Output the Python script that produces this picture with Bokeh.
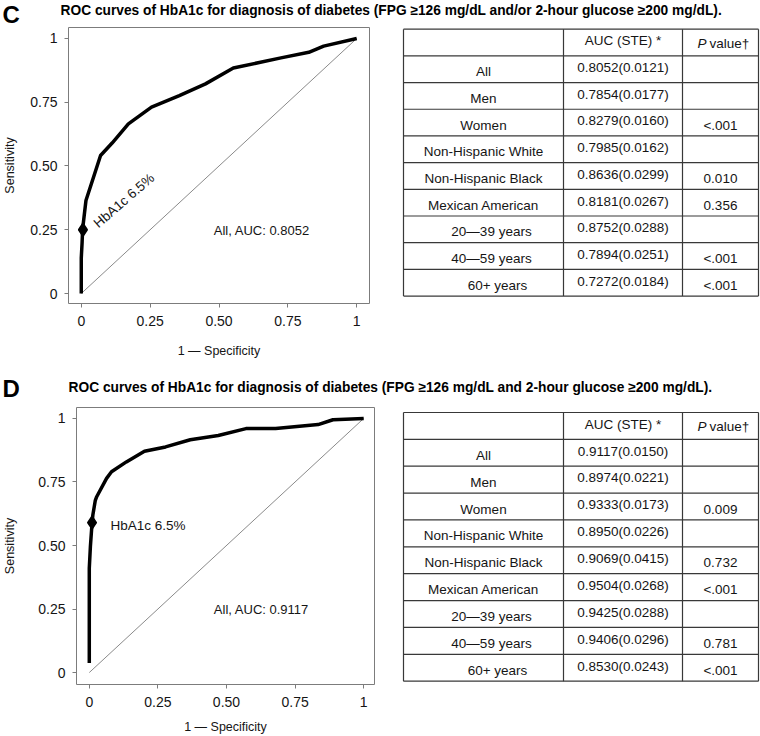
from bokeh.plotting import figure
from bokeh.layouts import column, row
from bokeh.models import Range1d, FixedTicker, Label
from bokeh.core.properties import value
from bokeh.embed import file_html
from bokeh.resources import INLINE

FONT = "Liberation Sans"
TXT = "#151515"

# ---------------- data ----------------
title_c = "ROC curves of HbA1c for diagnosis of diabetes (FPG \u2265126 mg/dL and/or 2-hour glucose \u2265200 mg/dL)."
title_d = "ROC curves of HbA1c for diagnosis of diabetes (FPG \u2265126 mg/dL and 2-hour glucose \u2265200 mg/dL)."

fpr_c = [0, 0, 0.003, 0.005, 0.010, 0.017, 0.070, 0.112, 0.171, 0.255, 0.356,
         0.451, 0.552, 0.642, 0.725, 0.826, 0.880, 1.0]
tpr_c = [0, 0.14, 0.20, 0.254, 0.30, 0.365, 0.541, 0.590, 0.665, 0.731, 0.776,
         0.822, 0.884, 0.905, 0.924, 0.946, 0.970, 1.0]
cut_c = [0.006, 0.25]
auc_all_c = "All, AUC: 0.8052"

fpr_d = [0, 0, 0, 0.004, 0.010, 0.013, 0.022, 0.027, 0.063, 0.081, 0.135, 0.201, 0.278,
         0.368, 0.470, 0.571, 0.679, 0.834, 0.888, 1.0]
tpr_d = [0.038, 0.247, 0.41, 0.495, 0.587, 0.620, 0.678, 0.692, 0.764, 0.790, 0.829, 0.871,
         0.888, 0.916, 0.933, 0.960, 0.960, 0.976, 0.995, 1.0]
cut_d = [0.010, 0.59]
auc_all_d = "All, AUC: 0.9117"

cut_label = "HbA1c 6.5%"
chance = [0, 1]
ticks = [0, 0.25, 0.5, 0.75, 1]
tick_labels = ["0", "0.25", "0.50", "0.75", "1"]

groups = ["All", "Men", "Women", "Non-Hispanic White", "Non-Hispanic Black",
          "Mexican American", "20\u201439 years", "40\u201459 years", "60+ years"]
auc_c = ["0.8052(0.0121)", "0.7854(0.0177)", "0.8279(0.0160)", "0.7985(0.0162)",
         "0.8636(0.0299)", "0.8181(0.0267)", "0.8752(0.0288)", "0.7894(0.0251)",
         "0.7272(0.0184)"]
p_c = ["", "", "<.001", "", "0.010", "0.356", "", "<.001", "<.001"]
auc_d = ["0.9117(0.0150)", "0.8974(0.0221)", "0.9333(0.0173)", "0.8950(0.0226)",
         "0.9069(0.0415)", "0.9504(0.0268)", "0.9425(0.0288)", "0.9406(0.0296)",
         "0.8530(0.0243)"]
p_d = ["", "", "0.009", "", "0.732", "<.001", "", "0.781", "<.001"]
hdr_auc = "AUC (STE) *"
hdr_p = "value\u2020"

# small horizontal nudges of some row labels (layout only)
label_dx = [0, 0, 0, 0, 0, 0, 8, 8, 14]


def base_fig(w, h, xr, yr, **kw):
    p = figure(width=w, height=h, x_range=Range1d(*xr), y_range=Range1d(*yr),
               output_backend="svg", toolbar_location=None, title=None, **kw)
    p.background_fill_color = "white"
    p.border_fill_color = "white"
    return p


def roc_fig(fpr, tpr, cut, auc_txt, w, h, xr, yr, mb, ylab_standoff, xtick_standoff,
            xlab_standoff, rot_label, lab_xy, auc_xy):
    p = base_fig(w, h, xr, yr, min_border_left=mb[0], min_border_right=mb[1],
                 min_border_top=mb[2], min_border_bottom=mb[3])
    p.xgrid.visible = False
    p.ygrid.visible = False
    p.outline_line_color = "#7c7c7c"
    p.outline_line_width = 1
    p.xaxis.axis_label = "1 \u2014 Specificity"
    p.yaxis.axis_label = "Sensitivity"
    for ax in (p.xaxis[0], p.yaxis[0]):
        ax.ticker = FixedTicker(ticks=ticks)
        ax.major_label_overrides = {t: l for t, l in zip(ticks, tick_labels)}
        ax.axis_line_color = None
        ax.major_tick_line_color = "#7c7c7c"
        ax.major_tick_out = 4
        ax.major_tick_in = 0
        ax.minor_tick_line_color = None
        ax.major_label_text_font = FONT
        ax.major_label_text_font_size = "14px"
        ax.major_label_text_color = TXT
        ax.axis_label_text_font = FONT
        ax.axis_label_text_font_size = "12.5px"
        ax.axis_label_text_font_style = "normal"
        ax.axis_label_text_color = TXT
    p.yaxis[0].major_label_standoff = 7
    p.yaxis[0].axis_label_standoff = ylab_standoff
    p.xaxis[0].major_label_standoff = xtick_standoff
    p.xaxis[0].axis_label_standoff = xlab_standoff

    p.line(chance, chance, line_color="#8a8a8a", line_width=1)
    p.line(fpr, tpr, line_color="black", line_width=3.5, line_join="round")
    p.scatter([cut[0]], [cut[1]], marker="diamond", size=13, fill_color="black",
              line_color="black", line_width=1.5)
    if rot_label:
        p.text([lab_xy[0]], [lab_xy[1]], text=[cut_label], angle=0.715,
               text_font=value(FONT), text_font_size="13.5px", text_color=TXT,
               text_align="left", text_baseline="alphabetic")
    else:
        p.text([lab_xy[0]], [lab_xy[1]], text=[cut_label],
               text_font=value(FONT), text_font_size="13.5px", text_color=TXT,
               text_align="left", text_baseline="middle")
    p.text([auc_xy[0]], [auc_xy[1]], text=[auc_txt], text_font=value(FONT),
           text_font_size="13px", text_color=TXT, text_align="left",
           text_baseline="middle")
    return p


def table_fig(w, h, top, row_h, auc, pv):
    t = base_fig(w, h, (0, w), (h, 0), min_border=0,
                 x_axis_location=None, y_axis_location=None)
    t.grid.visible = False
    t.outline_line_color = None
    xs = [25, 185, 304, 380]
    n = len(groups) + 1
    ys = [top + i * row_h for i in range(n + 1)]
    lc = "#383838"
    t.segment(x0=[xs[0]] * len(ys), x1=[xs[-1]] * len(ys), y0=ys, y1=ys,
              line_color=lc, line_width=1.2)
    t.segment(x0=xs, x1=xs, y0=[ys[0]] * len(xs), y1=[ys[-1]] * len(xs),
              line_color=lc, line_width=1.2)
    c1 = (xs[0] + xs[1]) / 2
    c2 = (xs[1] + xs[2]) / 2
    c3 = (xs[2] + xs[3]) / 2
    mid = [top + (i + 0.5) * row_h for i in range(n)]
    fs = "13.5px"
    common = dict(text_font=value(FONT), text_font_size=fs, text_color=TXT,
                  text_baseline="middle")
    # header
    t.text([c2], [mid[0] - 2], text=[hdr_auc], text_align="center", **common)
    t.text([c3 - 23], [mid[0] + 1], text=["P"], text_align="left",
           text_font_style="italic", **common)
    t.text([c3 - 11], [mid[0] + 1], text=[hdr_p], text_align="left", **common)
    # body
    t.text([c1 + d for d in label_dx], [m + 3 for m in mid[1:]], text=groups,
           text_align="center", **common)
    t.text([c2] * len(auc), [m - 2 for m in mid[1:]], text=auc,
           text_align="center", **common)
    t.text([c3] * len(pv), [m + 3 for m in mid[1:]], text=pv,
           text_align="center", **common)
    return t


def title_fig(h, letter, letter_mid, title, title_x, title_mid):
    f = base_fig(760, h, (0, 760), (h, 0), min_border=0,
                 x_axis_location=None, y_axis_location=None)
    f.grid.visible = False
    f.outline_line_color = None
    f.add_layout(Label(x=2, y=letter_mid, text=letter, text_font=FONT,
                       text_font_size="24px", text_font_style="bold",
                       text_color="black", text_align="left",
                       text_baseline="middle"))
    f.add_layout(Label(x=title_x, y=title_mid, text=title, text_font=FONT,
                       text_font_size="13.75px", text_font_style="bold",
                       text_color="black", text_align="left",
                       text_baseline="middle"))
    return f


# ---------------- panel C ----------------
t_c = title_fig(26, "C", 13.5, title_c, 60, 9.5)
roc_c = roc_fig(fpr_c, tpr_c, cut_c, auc_all_c, 378, 336,
                (-0.0464, 1.0464), (-0.0392, 1.0431), (63, 9, 1, 59),
                10, 8, 15, True, (0.052, 0.268), (0.481, 0.247))
tab_c = table_fig(382, 336, 2, 32.5, auc_c, p_c)

# ---------------- panel D ----------------
t_d = title_fig(40, "D", 25.5, title_d, 68, 25)
roc_d = roc_fig(fpr_d, tpr_d, cut_d, auc_all_d, 378, 334,
                (-0.0466, 1.0394), (-0.047, 1.0431), (71, 4, 5, 51),
                18, 8, 10, False, (0.077, 0.58), (0.454, 0.247))
tab_d = table_fig(382, 334, 6, 32.4, auc_d, p_d)

layout = column(t_c, row(roc_c, tab_c), t_d, row(roc_d, tab_d))

open("out.html", "w").write(file_html(layout, INLINE))
